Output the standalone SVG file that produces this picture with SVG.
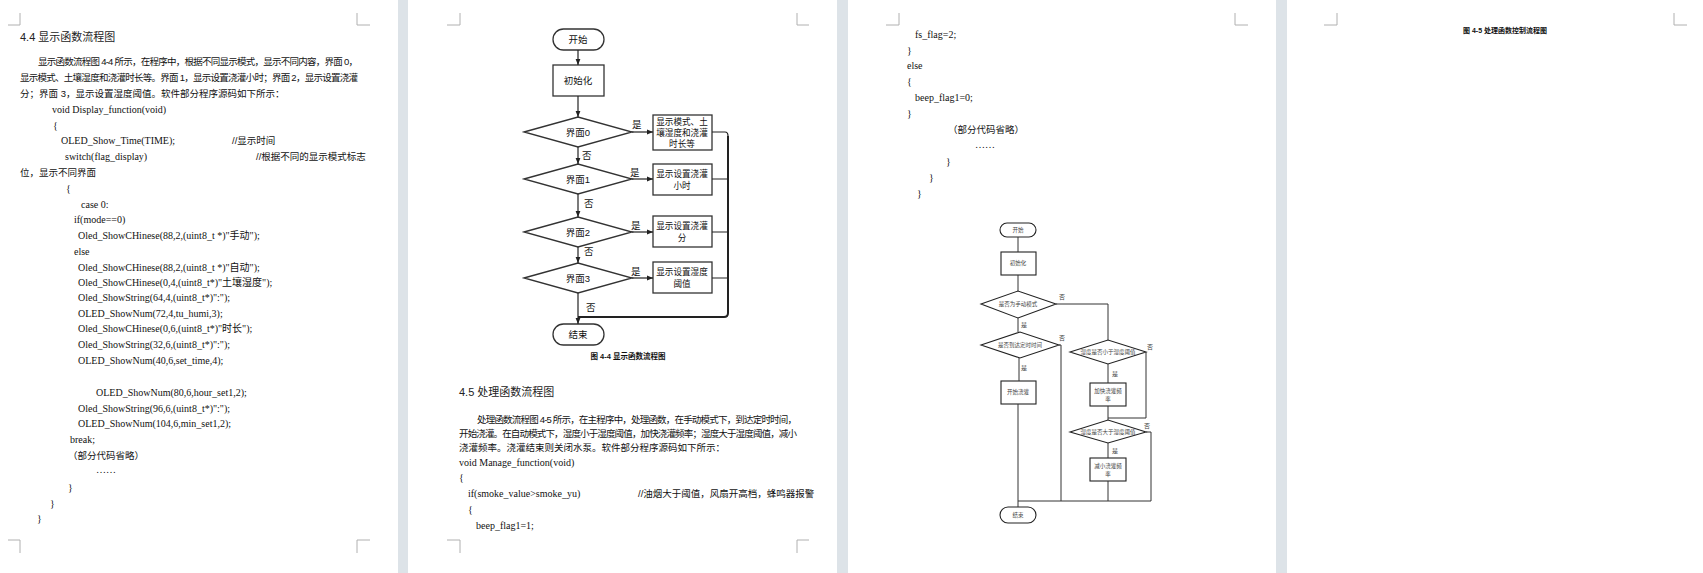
<svg xmlns="http://www.w3.org/2000/svg" width="1703" height="573" viewBox="0 0 1703 573">
<style>
.pg{fill:#fff}
.cm{stroke:#b0b0b0;stroke-width:1;fill:none}
.t{font-family:"Liberation Serif","Noto Sans CJK SC",serif;font-size:10px;fill:#111}
.c{font-family:"Liberation Sans","Noto Sans CJK SC",sans-serif;font-size:9.5px;fill:#111}
.h{font-family:"Liberation Sans","Noto Sans CJK SC",sans-serif;font-size:11px;fill:#222}
.f{font-family:"Liberation Sans","Noto Sans CJK SC",sans-serif;font-size:9.5px;fill:#111;text-anchor:middle}
.fb{font-family:"Liberation Sans","Noto Sans CJK SC",sans-serif;font-size:8.6px;fill:#111;text-anchor:middle}
.s{font-family:"Liberation Sans","Noto Sans CJK SC",sans-serif;font-size:5.5px;fill:#444;text-anchor:middle}
.sl{font-family:"Liberation Sans","Noto Sans CJK SC",sans-serif;font-size:6px;fill:#444}
.nd{fill:#fff;stroke:#333;stroke-width:1.3}
.nd2{fill:#fff;stroke:#222;stroke-width:1.1}
.ln{fill:none;stroke:#222;stroke-width:1.2}
.ln2{fill:none;stroke:#333;stroke-width:1}
</style>
<defs>
<marker id="a" viewBox="0 0 10 10" refX="10" refY="5" markerWidth="5" markerHeight="5" orient="auto"><path d="M0,1 L10,5 L0,9 z" fill="#222"/></marker>
</defs>
<rect width="1703" height="573" fill="#dde3e8"/>
<rect class="pg" x="0" y="0" width="398" height="573"/>
<rect class="pg" x="408" y="0" width="429" height="573"/>
<rect class="pg" x="848" y="0" width="428" height="573"/>
<rect class="pg" x="1287" y="0" width="416" height="573"/>
<g class="cm">
<path d="M8,25 H20 V13 M357,13 V25 H370 M8,540 H20 V553 M357,553 V540 H370"/>
<path d="M447,25 H460 V13 M797,13 V25 H809 M447,540 H460 V553 M797,553 V540 H809"/>
<path d="M886,25 H899 V13 M1235,13 V25 H1248"/>
<path d="M1324,25 H1337 V13 M1674,13 V25 H1687"/>
</g>
<g id="page1">
<text class="h" x="20" y="41">4.4 显示函数流程图</text>
<text class="c" x="38" y="65" textLength="320">显示函数流程图 4-4 所示，在程序中，根据不同显示模式，显示不同内容，界面 0，</text>
<text class="c" x="20" y="81" textLength="338">显示模式、土壤湿度和浇灌时长等。界面 1，显示设置浇灌小时；界面 2，显示设置浇灌</text>
<text class="c" x="20" y="97">分；界面 3，显示设置湿度阈值。软件部分程序源码如下所示：</text>
<text class="t" x="52" y="113">void Display_function(void)</text>
<text class="t" x="53" y="129">{</text>
<text class="t" x="61" y="144">OLED_Show_Time(TIME);</text>
<text class="c" x="232" y="144">//显示时间</text>
<text class="t" x="65" y="160">switch(flag_display)</text>
<text class="c" x="256" y="160">//根据不同的显示模式标志</text>
<text class="c" x="20" y="176">位，显示不同界面</text>
<text class="t" x="66" y="192">{</text>
<text class="t" x="81" y="208">case 0:</text>
<text class="t" x="74" y="223">if(mode==0)</text>
<text class="t" x="78" y="239">Oled_ShowCHinese(88,2,(uint8_t *)"手动");</text>
<text class="t" x="74" y="255">else</text>
<text class="t" x="78" y="271">Oled_ShowCHinese(88,2,(uint8_t *)"自动");</text>
<text class="t" x="78" y="286">Oled_ShowCHinese(0,4,(uint8_t*)"土壤湿度");</text>
<text class="t" x="78" y="301">Oled_ShowString(64,4,(uint8_t*)":");</text>
<text class="t" x="78" y="317">OLED_ShowNum(72,4,tu_humi,3);</text>
<text class="t" x="78" y="332">Oled_ShowCHinese(0,6,(uint8_t*)"时长");</text>
<text class="t" x="78" y="348">Oled_ShowString(32,6,(uint8_t*)":");</text>
<text class="t" x="78" y="364">OLED_ShowNum(40,6,set_time,4);</text>
<text class="t" x="96" y="396">OLED_ShowNum(80,6,hour_set1,2);</text>
<text class="t" x="78" y="412">Oled_ShowString(96,6,(uint8_t*)":");</text>
<text class="t" x="78" y="427">OLED_ShowNum(104,6,min_set1,2);</text>
<text class="t" x="70" y="443">break;</text>
<text class="c" x="68" y="459">（部分代码省略）</text>
<text class="t" x="96" y="473">……</text>
<text class="t" x="68" y="491">}</text>
<text class="t" x="50" y="507">}</text>
<text class="t" x="37" y="522">}</text>
</g>
<g id="n_start"><rect class="nd" x="553" y="29" width="51" height="21" rx="10.5"/><text class="f" x="578" y="43">开始</text></g>
<g id="n_init"><rect class="nd" x="553" y="65" width="51" height="31"/><text class="f" x="578" y="84">初始化</text></g>
<g id="n_d0"><polygon class="nd" points="524,132 578,117 632,132 578,147"/><text class="f" x="578" y="136">界面0</text></g>
<g id="n_d1"><polygon class="nd" points="524,179 578,164 632,179 578,194"/><text class="f" x="578" y="183">界面1</text></g>
<g id="n_d2"><polygon class="nd" points="524,232 578,217 632,232 578,247"/><text class="f" x="578" y="236">界面2</text></g>
<g id="n_d3"><polygon class="nd" points="524,278 578,263 632,278 578,293"/><text class="f" x="578" y="282">界面3</text></g>
<g id="n_b0"><rect class="nd" x="653" y="115" width="59" height="35"/><text class="fb" x="682" y="125">显示模式、土</text><text class="fb" x="682" y="136">壤湿度和浇灌</text><text class="fb" x="682" y="147">时长等</text></g>
<g id="n_b1"><rect class="nd" x="653" y="164" width="59" height="31"/><text class="fb" x="682" y="177">显示设置浇灌</text><text class="fb" x="682" y="189">小时</text></g>
<g id="n_b2"><rect class="nd" x="653" y="216" width="59" height="31"/><text class="fb" x="682" y="229">显示设置浇灌</text><text class="fb" x="682" y="241">分</text></g>
<g id="n_b3"><rect class="nd" x="653" y="262" width="59" height="31"/><text class="fb" x="682" y="275">显示设置湿度</text><text class="fb" x="682" y="287">阈值</text></g>
<g id="n_end"><rect class="nd" x="553" y="324" width="51" height="21" rx="10.5"/><text class="f" x="578" y="338">结束</text></g>
<g id="connectors2">
<path class="ln" d="M578,50 V65" marker-end="url(#a)"/>
<path class="ln" d="M578,96 V117" marker-end="url(#a)"/>
<path class="ln" d="M578,147 V164" marker-end="url(#a)"/>
<path class="ln" d="M578,194 V217" marker-end="url(#a)"/>
<path class="ln" d="M578,247 V263" marker-end="url(#a)"/>
<path class="ln" d="M578,293 V324" marker-end="url(#a)"/>
<path class="ln" d="M632,132 H653" marker-end="url(#a)"/>
<path class="ln" d="M632,179 H653" marker-end="url(#a)"/>
<path class="ln" d="M632,232 H653" marker-end="url(#a)"/>
<path class="ln" d="M632,278 H653" marker-end="url(#a)"/>
<path class="ln" d="M712,132 H725 Q728,132 728,136 M712,179 H728 M712,232 H728 M712,278 H728"/>
<path fill="none" stroke="#222" stroke-width="2" d="M728,136 V313 Q728,317 724,317 H578"/>
<text class="c" x="632" y="128">是</text>
<text class="c" x="630" y="176">是</text>
<text class="c" x="631" y="229">是</text>
<text class="c" x="631" y="275">是</text>
<text class="c" x="582" y="159">否</text>
<text class="c" x="584" y="207">否</text>
<text class="c" x="584" y="255">否</text>
<text class="c" x="586" y="311">否</text>
</g>
<text class="c" x="628" y="359" style="font-size:7.5px;font-weight:bold;text-anchor:middle">图 4-4   显示函数流程图</text>
<g id="page2text">
<text class="h" x="459" y="396">4.5  处理函数流程图</text>
<text class="c" x="477" y="423" textLength="320">处理函数流程图 4-5 所示，在主程序中，处理函数，在手动模式下，到达定时时间，</text>
<text class="c" x="459" y="437" textLength="338">开始浇灌。在自动模式下，湿度小于湿度阈值，加快浇灌频率；湿度大于湿度阈值，减小</text>
<text class="c" x="459" y="451">浇灌频率。浇灌结束则关闭水泵。软件部分程序源码如下所示：</text>
<text class="t" x="459" y="466">void Manage_function(void)</text>
<text class="t" x="459" y="481">{</text>
<text class="t" x="468" y="497">if(smoke_value&gt;smoke_yu)</text>
<text class="c" x="638" y="497">//油烟大于阈值，风扇开高档，蜂鸣器报警</text>
<text class="t" x="468" y="513">{</text>
<text class="t" x="476" y="529">beep_flag1=1;</text>
</g>
<g id="page3text">
<text class="t" x="915" y="38">fs_flag=2;</text>
<text class="t" x="907" y="54">}</text>
<text class="t" x="907" y="69">else</text>
<text class="t" x="907" y="85">{</text>
<text class="t" x="915" y="101">beep_flag1=0;</text>
<text class="t" x="907" y="117">}</text>
<text class="c" x="948" y="133">（部分代码省略）</text>
<text class="t" x="975" y="148">……</text>
<text class="t" x="946" y="165">}</text>
<text class="t" x="929" y="181">}</text>
<text class="t" x="917" y="197">}</text>
</g>
<g id="m_start"><rect class="nd2" x="1000" y="223" width="36" height="14" rx="7"/><text class="s" x="1018" y="232">开始</text></g>
<g id="m_init"><rect class="nd2" x="1001" y="252" width="35" height="23"/><text class="s" x="1018" y="265">初始化</text></g>
<g id="m_d1"><polygon class="nd2" points="981,304 1018,291 1056,304 1018,318"/><text class="s" x="1018" y="306">是否为手动模式</text></g>
<g id="m_d2"><polygon class="nd2" points="981,345 1020,332 1059,345 1020,358"/><text class="s" x="1020" y="347">是否到达定时时间</text></g>
<g id="m_d3"><polygon class="nd2" points="1070,352 1108,340 1146,352 1108,364"/><text class="s" x="1108" y="354">湿度是否小于湿度阈值</text></g>
<g id="m_b1"><rect class="nd2" x="1001" y="381" width="35" height="23"/><text class="s" x="1018" y="394">开始浇灌</text></g>
<g id="m_b2"><rect class="nd2" x="1090" y="383" width="36" height="23"/><text class="s" x="1108" y="393">加快浇灌频</text><text class="s" x="1108" y="401">率</text></g>
<g id="m_d4"><polygon class="nd2" points="1070,432 1108,420 1146,432 1108,443"/><text class="s" x="1108" y="434">湿度是否大于湿度阈值</text></g>
<g id="m_b3"><rect class="nd2" x="1090" y="458" width="36" height="23"/><text class="s" x="1108" y="468">减小浇灌频</text><text class="s" x="1108" y="476">率</text></g>
<g id="m_end"><rect class="nd2" x="1000" y="507" width="36" height="16" rx="8"/><text class="s" x="1018" y="517">结束</text></g>
<g id="connectors3">
<path class="ln2" d="M1018,237 V252 M1018,275 V291 M1018,318 V332 M1019,358 V381 M1018,404 V501 M1108,364 V383 M1108,406 V420 M1108,443 V458 M1108,481 V501"/>
<path class="ln2" d="M1056,304 H1108 V340"/>
<path class="ln2" d="M1059,345 H1061 V501"/>
<path class="ln2" d="M1146,352 V418 H1108"/>
<path class="ln2" d="M1146,432 H1151 V501 H1018 V507"/>
<text class="sl" x="1059" y="299">否</text>
<text class="sl" x="1059" y="340">否</text>
<text class="sl" x="1147" y="349">否</text>
<text class="sl" x="1144" y="428">否</text>
<text class="sl" x="1021" y="327">是</text>
<text class="sl" x="1021" y="370">是</text>
<text class="sl" x="1112" y="376">是</text>
<text class="sl" x="1112" y="453">是</text>
</g>
<text class="c" x="1505" y="33" style="font-size:7px;font-weight:bold;text-anchor:middle">图 4-5   处理函数控制流程图</text>
</svg>
